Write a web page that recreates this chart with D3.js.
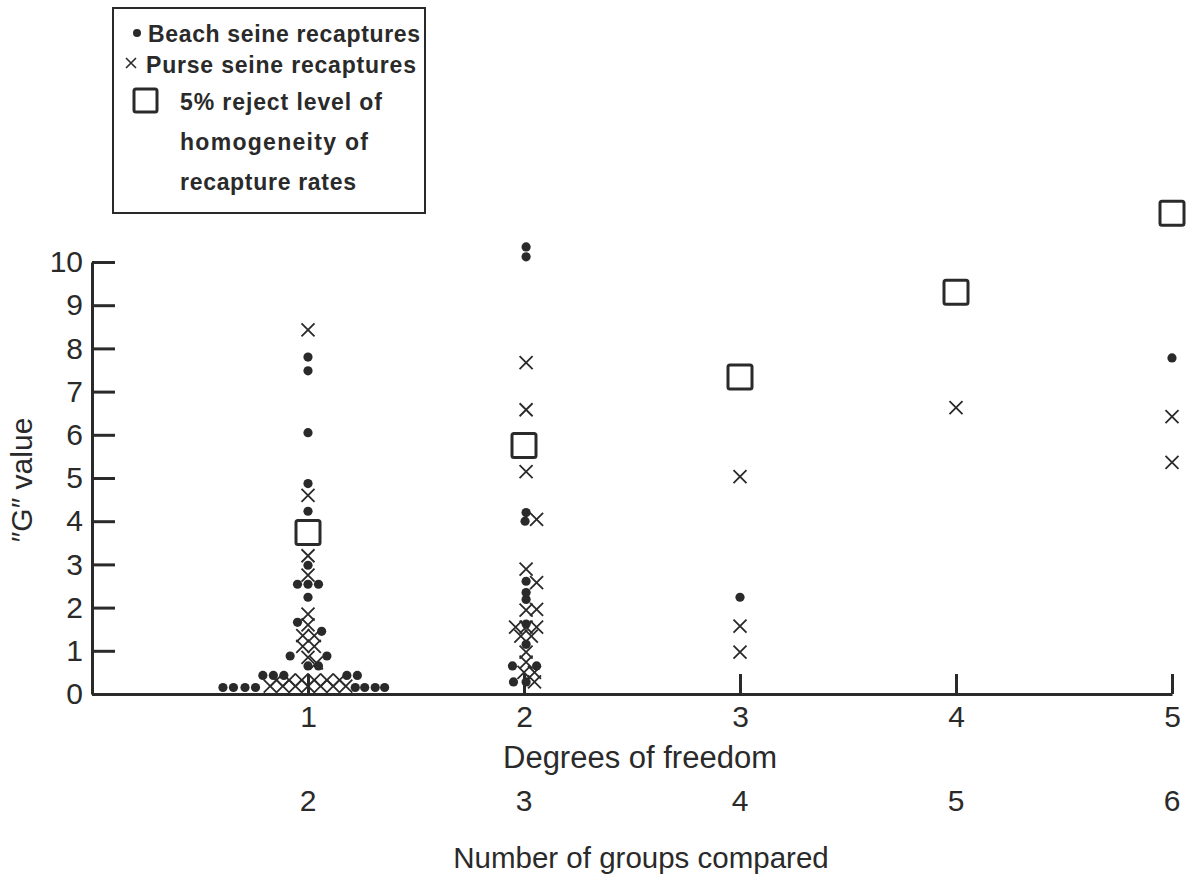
<!DOCTYPE html>
<html>
<head>
<meta charset="utf-8">
<script src="https://cdn.jsdelivr.net/npm/d3@7"></script>
<style>
  body { margin: 0; background: #fff; }
  text { font-family: "Liberation Sans", Arial, sans-serif; fill: #2a2a2a; }
</style>
</head>
<body>
<svg id="chart"></svg>
<script>
// degrees of freedom on the axis, and the matching number of groups
let dfTicks = [1, 2, 3, 4, 5]
let groupLabels = ['2', '3', '4', '5', '6']
let yTicks = [0, 1, 2, 3, 4, 5, 6, 7, 8, 9, 10]

// 5% reject level (critical G) for each df
let rejectLevel = [3.74, 5.75, 7.34, 9.3, 11.13]

// beach seine recaptures: [df, G, column in the stack]
let beach = [
  [1, 7.80, 0], [1, 7.48, 0], [1, 6.05, 0], [1, 4.87, 0], [1, 4.23, 0],
  [1, 2.98, 0], [1, 2.54, -1], [1, 2.54, 0], [1, 2.54, 1], [1, 2.24, 0],
  [1, 1.66, -1], [1, 1.45, 1.3], [1, 0.88, -1.7], [1, 0.88, 1.8],
  [1, 0.65, 0], [1, 0.65, 1],
  [1, 0.43, -4.3], [1, 0.43, -3.3], [1, 0.43, -2.3], [1, 0.43, 3.7], [1, 0.43, 4.7],
  [1, 0.15, -8.1], [1, 0.15, -7.1], [1, 0.15, -6], [1, 0.15, -5],
  [1, 0.15, 4.5], [1, 0.15, 5.4], [1, 0.15, 6.4], [1, 0.15, 7.3],
  [2, 10.35, 0.2], [2, 10.12, 0.2], [2, 4.2, 0.2], [2, 4.0, 0.1],
  [2, 2.61, 0.2], [2, 2.35, 0.2], [2, 2.19, 0.2], [2, 1.62, 0.2], [2, 1.15, 0.2],
  [2, 0.65, -1.1], [2, 0.65, 1.2], [2, 0.28, -1], [2, 0.28, 0.2],
  [3, 2.24, 0],
  [5, 7.78, 0]
]

// purse seine recaptures: [df, G, column in the stack]
let purse = [
  [1, 8.43, 0], [1, 4.6, 0], [1, 3.2, 0], [1, 2.75, 0],
  [1, 1.85, 0], [1, 1.6, 0], [1, 1.35, -0.5], [1, 1.35, 0.6],
  [1, 1.1, -0.5], [1, 1.1, 0.6], [1, 0.85, 0], [1, 0.72, 0.8],
  [1, 0.32, -3], [1, 0.32, -1.8], [1, 0.32, -0.6], [1, 0.32, 0.6], [1, 0.32, 1.8], [1, 0.32, 3],
  [1, 0.18, -3.6], [1, 0.18, -2.4], [1, 0.18, -1.2], [1, 0.18, 0], [1, 0.18, 1.2], [1, 0.18, 2.4], [1, 0.18, 3.6],
  [2, 7.67, 0.2], [2, 6.58, 0.2], [2, 5.15, 0.2], [2, 4.04, 1.2],
  [2, 2.89, 0.2], [2, 2.58, 1.2], [2, 1.94, 0.2], [2, 1.96, 1.2],
  [2, 1.55, -0.8], [2, 1.55, 0.2], [2, 1.55, 1.2], [2, 1.34, -0.3], [2, 1.34, 0.7],
  [2, 0.97, 0.2], [2, 0.74, 0.2], [2, 0.5, 0], [2, 0.5, 1.0], [2, 0.28, 1.0],
  [3, 5.03, 0], [3, 1.57, 0], [3, 0.97, 0],
  [4, 6.63, 0],
  [5, 6.42, 0], [5, 5.36, 0]
]

let W = 1196, H = 877
let ink = '#2a2a2a'
let colW = 10.5   // width of one stack column, px
let fs = 30

let svg = d3.select('#chart').attr('width', W).attr('height', H)

let x = d3.scaleLinear().domain([0, 5]).range([92, 1172])
let y = d3.scaleLinear().domain([0, 10]).range([694, 262])

// y axis, ticks pointing into the plot
let yAxis = svg.append('g')
  .attr('transform', `translate(${x(0)},0)`)
  .call(d3.axisLeft(y).tickValues(yTicks).tickFormat(d3.format('d'))
    .tickSizeInner(-23).tickSizeOuter(0).tickPadding(9))
yAxis.select('.domain').attr('stroke', ink).attr('stroke-width', 3)
yAxis.selectAll('.tick line').attr('stroke', ink).attr('stroke-width', 3)
yAxis.selectAll('.tick text').attr('font-size', fs).attr('fill', ink).attr('font-family', null)

// x axis, ticks pointing up
let xAxis = svg.append('g')
  .attr('transform', `translate(0,${y(0)})`)
  .call(d3.axisBottom(x).tickValues(dfTicks).tickFormat(d3.format('d'))
    .tickSizeInner(-20).tickSizeOuter(0).tickPadding(12))
xAxis.select('.domain').attr('stroke', ink).attr('stroke-width', 3)
xAxis.selectAll('.tick line').attr('stroke', ink).attr('stroke-width', 3)
xAxis.selectAll('.tick text').attr('font-size', fs).attr('fill', ink).attr('font-family', null)

// second row of labels: number of groups compared
svg.append('g').selectAll('text')
  .data(dfTicks)
  .enter().append('text')
  .attr('x', d => x(d))
  .attr('y', 811)
  .attr('text-anchor', 'middle')
  .attr('font-size', fs)
  .text((d, i) => groupLabels[i])

svg.append('text').attr('x', 640).attr('y', 768)
  .attr('text-anchor', 'middle').attr('font-size', 31)
  .text('Degrees of freedom')
svg.append('text').attr('x', 641).attr('y', 868)
  .attr('text-anchor', 'middle').attr('font-size', 29.5)
  .text('Number of groups compared')
svg.append('text')
  .attr('transform', 'translate(32,480) rotate(-90)')
  .attr('text-anchor', 'middle').attr('font-size', fs)
  .text('\u2033G\u2033 value')

// reject level squares
svg.append('g').selectAll('rect')
  .data(rejectLevel)
  .enter().append('rect')
  .attr('x', (d, i) => x(dfTicks[i]) - 12)
  .attr('y', d => y(d) - 12)
  .attr('width', 24).attr('height', 24).attr('rx', 2)
  .attr('fill', 'none').attr('stroke', ink).attr('stroke-width', 3)

// purse seine crosses
let cross = 6.5
svg.append('g').selectAll('path')
  .data(purse)
  .enter().append('path')
  .attr('transform', d => `translate(${x(d[0]) + d[2] * colW},${y(d[1])})`)
  .attr('d', `M${-cross},${-cross}L${cross},${cross}M${-cross},${cross}L${cross},${-cross}`)
  .attr('stroke', ink).attr('stroke-width', 1.8).attr('fill', 'none')

// beach seine dots
svg.append('g').selectAll('circle')
  .data(beach)
  .enter().append('circle')
  .attr('cx', d => x(d[0]) + d[2] * colW)
  .attr('cy', d => y(d[1]))
  .attr('r', 4.6)
  .attr('fill', ink)

// legend
let lg = svg.append('g')
lg.append('rect').attr('x', 113).attr('y', 8).attr('width', 312).attr('height', 205)
  .attr('fill', 'none').attr('stroke', ink).attr('stroke-width', 2)
lg.append('circle').attr('cx', 137).attr('cy', 33).attr('r', 4).attr('fill', ink)
lg.append('path').attr('d', 'M126,58L136,68M126,68L136,58')
  .attr('stroke', ink).attr('stroke-width', 1.6)
lg.append('rect').attr('x', 134).attr('y', 89).attr('width', 23).attr('height', 23).attr('rx', 2)
  .attr('fill', 'none').attr('stroke', ink).attr('stroke-width', 3)
let legendLines = [
  ['Beach seine recaptures', 148, 42, 272],
  ['Purse seine recaptures', 146, 73, 270],
  ['5% reject level of', 180, 110, 202],
  ['homogeneity of', 180, 150, 188],
  ['recapture rates', 180, 190, 176]
]
lg.selectAll('text.lbl')
  .data(legendLines)
  .enter().append('text')
  .attr('class', 'lbl')
  .attr('x', d => d[1]).attr('y', d => d[2])
  .attr('font-size', 23).attr('font-weight', 'bold')
  .attr('textLength', d => d[3]).attr('lengthAdjust', 'spacing')
  .text(d => d[0])
</script>
</body>
</html>
